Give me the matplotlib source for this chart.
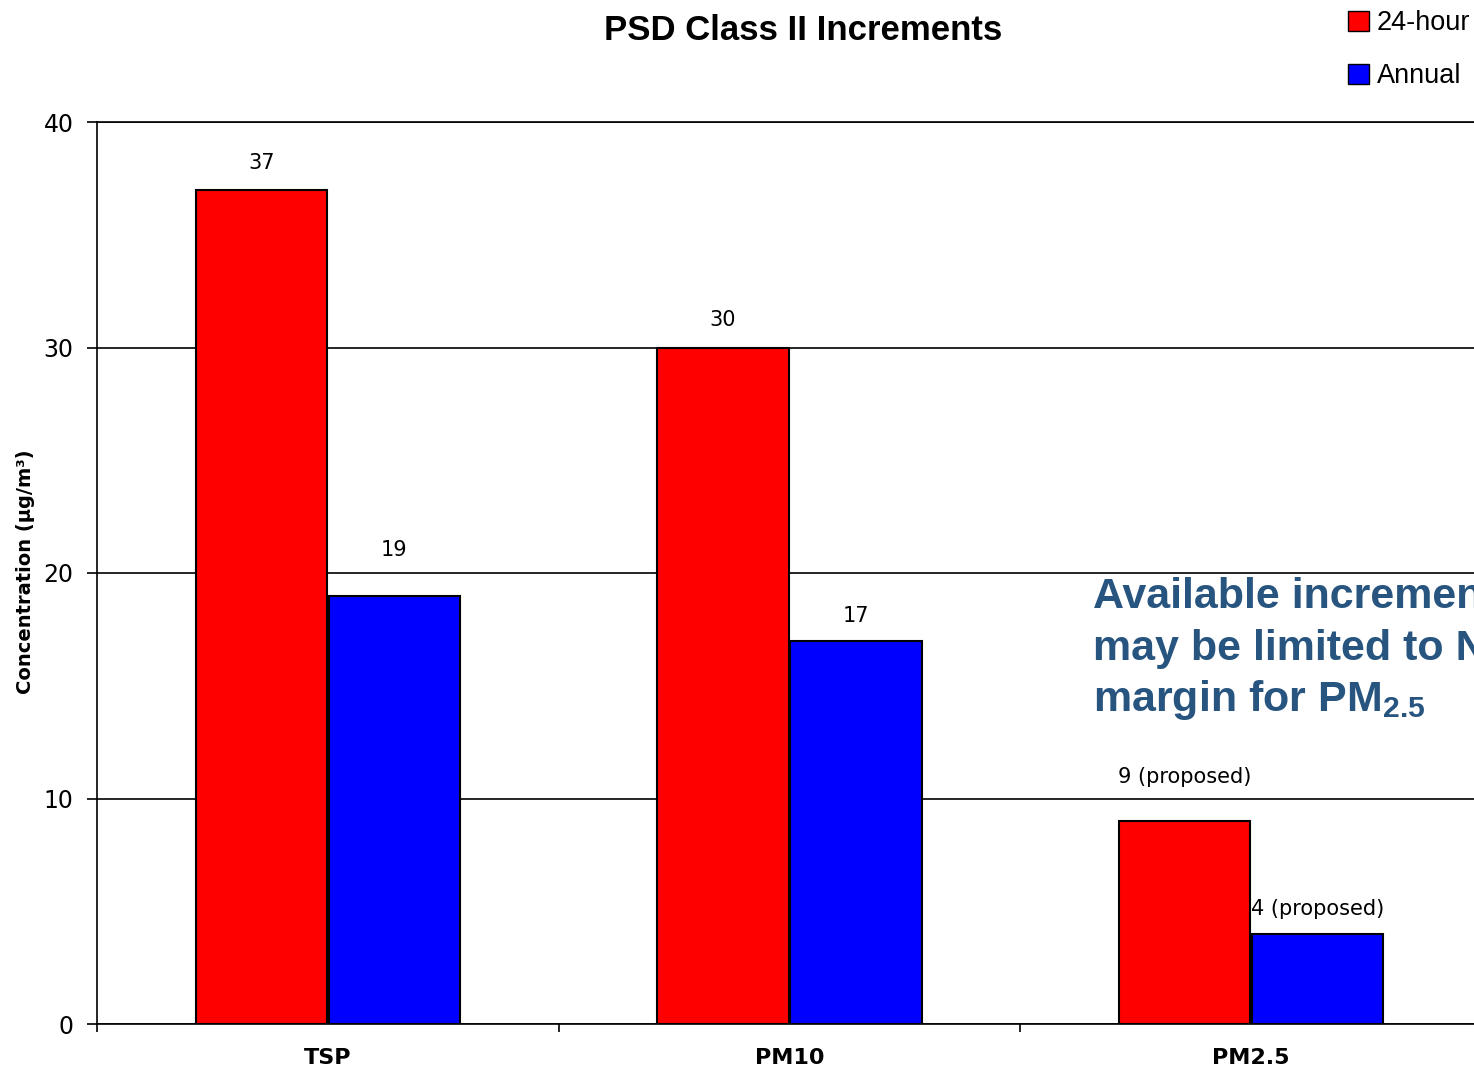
import matplotlib
matplotlib.use("Agg")
import matplotlib.pyplot as plt
from matplotlib.patches import Patch
import numpy as np

plt.rcParams['font.family'] = ['Liberation Sans', 'DejaVu Sans']
plt.rcParams['mathtext.fontset'] = 'custom'
plt.rcParams['mathtext.rm'] = 'Liberation Sans:bold'
plt.rcParams['mathtext.it'] = 'Liberation Sans:bold'
plt.rcParams['mathtext.bf'] = 'Liberation Sans:bold'

categories = ["TSP", "PM10", "PM2.5"]
series_names = ["24-hour", "Annual"]
hour24 = [37, 30, 9]
annual = [19, 17, 4]
hour24_labels = ["37", "30", "9 (proposed)"]
annual_labels = ["19", "17", "4 (proposed)"]
yticks = [0, 10, 20, 30, 40]

# label offsets above bar tops (points); labels are lifted above a gridline when they would cross it
hour24_label_offsets = [19.5, 19.5, 32]
annual_label_offsets = [33, 18, 18]

W, H = 1474, 1071
fig = plt.figure(figsize=(W / 100, H / 100), dpi=100)
ax = fig.add_axes([97 / W, 1 - 1024 / H, (1482 - 97) / W, (1024 - 122) / H])

x = np.arange(len(categories)) + 0.5
bw = 0.284
off = 0.144
ax.bar(x - off, hour24, width=bw, color="#FF0000", edgecolor="black", linewidth=1.5, zorder=3)
ax.bar(x + off, annual, width=bw, color="#0000FF", edgecolor="black", linewidth=1.5, zorder=3)

for xi, v, lab, o in zip(x - off, hour24, hour24_labels, hour24_label_offsets):
    ax.annotate(lab, (xi, v), xytext=(0, o), textcoords="offset points",
                ha="center", va="center", fontsize=15, family="DejaVu Sans", color="black")
for xi, v, lab, o in zip(x + off, annual, annual_labels, annual_label_offsets):
    ax.annotate(lab, (xi, v), xytext=(0, o), textcoords="offset points",
                ha="center", va="center", fontsize=15, family="DejaVu Sans", color="black")

ax.set_xlim(0, 3)
ax.set_ylim(0, 40)
ax.set_yticks(yticks)
ax.set_yticklabels([str(t) for t in yticks], fontsize=17, family="DejaVu Sans")
ax.yaxis.grid(True, color="black", linewidth=1.2, zorder=0)
ax.set_axisbelow(True)

ax.set_xticks([0, 1, 2, 3])
ax.set_xticklabels([])
ax.set_xticks(x, minor=True)
ax.set_xticklabels(categories, minor=True, fontsize=16, fontweight="bold", family="DejaVu Sans")
ax.tick_params(axis="x", which="minor", length=0, pad=17)
ax.tick_params(axis="x", which="major", length=6, width=1.2, direction="out")
ax.tick_params(axis="y", which="major", length=7, width=1.2, direction="out", pad=10)
for s in ax.spines.values():
    s.set_linewidth(1.2)

fig.text(26 / W, 1 - 572 / H, "Concentration (µg/m³)", rotation=90, ha="center", va="center",
         fontsize=14, fontweight="bold", family="DejaVu Sans")

fig.text(803 / W, 1 - 31 / H, "PSD Class II Increments", ha="center", va="center",
         fontsize=25, fontweight="bold")

handles = [Patch(facecolor="#FF0000", edgecolor="black"), Patch(facecolor="#0000FF", edgecolor="black")]
fig.legend(handles, series_names, loc="upper left", bbox_to_anchor=(1324 / W, 1 + 14 / H),
           frameon=False, fontsize=19.5, handlelength=0.75, handleheight=0.75, handletextpad=0.3,
           labelspacing=1.0)

note_color = "#27557F"
fig.text(1093 / W, 1 - 597 / H, "Available increment", ha="left", va="center",
         fontsize=31, fontweight="bold", color=note_color)
fig.text(1093 / W, 1 - 649 / H, "may be limited to NAAQS", ha="left", va="center",
         fontsize=31, fontweight="bold", color=note_color)
fig.text(1093 / W, 1 - 700 / H, "margin for PM$_{2.5}$", ha="left", va="center",
         fontsize=31, fontweight="bold", color=note_color)

fig.savefig("out.png", dpi=100)
